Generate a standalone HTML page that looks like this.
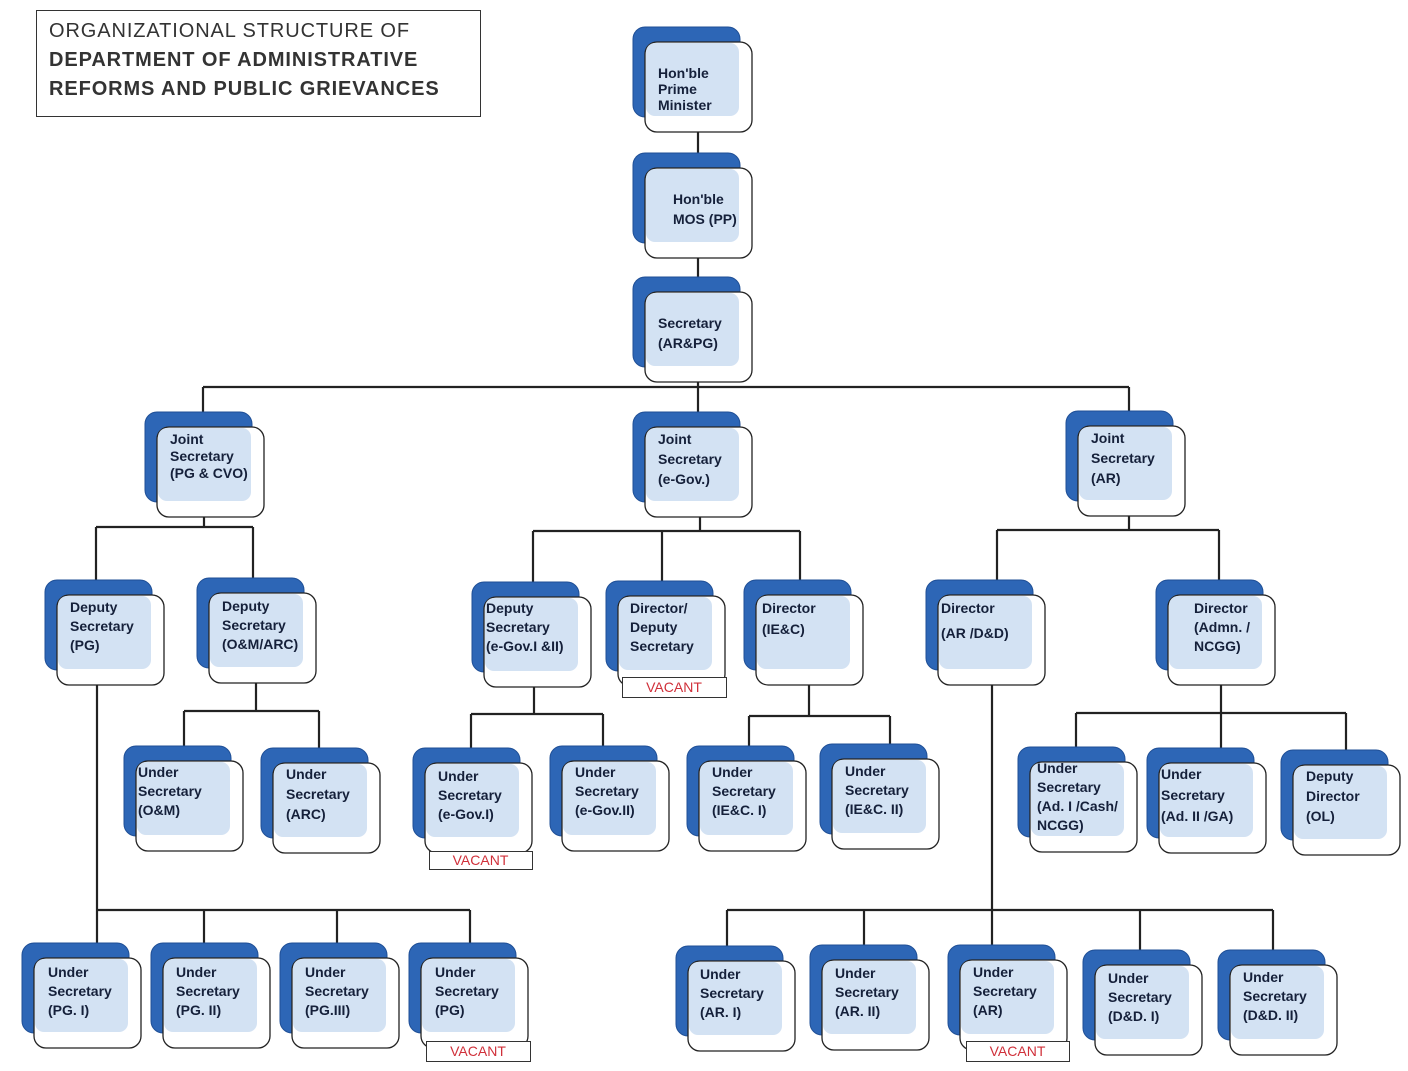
<!DOCTYPE html>
<html><head><meta charset="utf-8"><style>
html,body{margin:0;padding:0;background:#fff;}
svg{display:block;}
text{font-family:"Liberation Sans",Arial,sans-serif;}
.t{font-size:14px;font-weight:bold;fill:#15203a;}
.v{font-size:14px;fill:#d0303a;}
.h{font-size:20px;fill:#333;letter-spacing:0.9px;}
</style></head><body>
<svg id="s" width="1408" height="1071" viewBox="0 0 1408 1071" xmlns="http://www.w3.org/2000/svg">
<rect x="36.5" y="10.5" width="444" height="106" fill="#fff" stroke="#333" stroke-width="1"/>
<text x="49" y="37" class="h">ORGANIZATIONAL STRUCTURE OF</text>
<text x="49" y="66" class="h" style="font-weight:bold">DEPARTMENT OF ADMINISTRATIVE</text>
<text x="49" y="95" class="h" style="font-weight:bold">REFORMS AND PUBLIC GRIEVANCES</text>
<g stroke="#222" stroke-width="2.2" fill="none" id="lines">
<path d="M698 132V153M698 247V277M698 372V387M203 387H1129M203 387V412M698 387V412M1129 387V411"/>
<path d="M204 505V527M96 527H253M96 527V580M253 527V578"/>
<path d="M700 505V531M533 531H800M533 531V582M662 531V581M800 531V580"/>
<path d="M1129 504V530M997 530H1219M997 530V580M1219 530V580"/>
<path d="M256 670V711M184 711H319M184 711V746M319 711V748"/>
<path d="M534 675V714M471 714H603M471 714V748M603 714V746"/>
<path d="M809 673V716M749 716H890M749 716V746M890 716V744"/>
<path d="M1221 673V713M1076 713H1346M1076 713V747M1221 713V748M1346 713V750"/>
<path d="M97 673V910M97 910H470M97 910V943M204 910V943M337 910V943M470 910V943"/>
<path d="M992 673V945M727 910H1273M727 910V946M864 910V945M1140 910V950M1273 910V950"/>
</g>
<g id="nodes"></g>
</svg>
<script>
var N=[
[633,27,["Hon'ble","Prime","Minister"],25,46,16],
[633,153,["Hon'ble","MOS (PP)"],40,46,20],
[633,277,["Secretary","(AR&PG)"],25,46,20],
[145,412,["Joint","Secretary","(PG & CVO)"],25,27,17],
[633,412,["Joint","Secretary","(e-Gov.)"],25,27,20],
[1066,411,["Joint","Secretary","(AR)"],25,27,20],
[45,580,["Deputy","Secretary","(PG)"],25,27,19],
[197,578,["Deputy","Secretary","(O&M/ARC)"],25,28,19],
[472,582,["Deputy","Secretary","(e-Gov.I &II)"],14,26,19],
[606,581,["Director/","Deputy","Secretary"],24,27,19],
[744,580,["Director","(IE&C)"],18,28,21],
[926,580,["Director","(AR /D&D)"],15,28,25],
[1156,580,["Director","(Admn. /","NCGG)"],38,28,19],
[124,746,["Under","Secretary","(O&M)"],14,26,19],
[261,748,["Under","Secretary","(ARC)"],25,26,20],
[413,748,["Under","Secretary","(e-Gov.I)"],25,28,19],
[550,746,["Under","Secretary","(e-Gov.II)"],25,26,19],
[687,746,["Under","Secretary","(IE&C. I)"],25,26,19],
[820,744,["Under","Secretary","(IE&C. II)"],25,27,19],
[1018,747,["Under","Secretary","(Ad. I /Cash/","NCGG)"],19,21,19],
[1147,748,["Under","Secretary","(Ad. II /GA)"],14,26,21],
[1281,750,["Deputy","Director","(OL)"],25,26,20],
[22,943,["Under","Secretary","(PG. I)"],26,29,19],
[151,943,["Under","Secretary","(PG. II)"],25,29,19],
[280,943,["Under","Secretary","(PG.III)"],25,29,19],
[409,943,["Under","Secretary","(PG)"],26,29,19],
[676,946,["Under","Secretary","(AR. I)"],24,28,19],
[810,945,["Under","Secretary","(AR. II)"],25,28,19],
[948,945,["Under","Secretary","(AR)"],25,27,19],
[1083,950,["Under","Secretary","(D&D. I)"],25,28,19],
[1218,950,["Under","Secretary","(D&D. II)"],25,27,19]
];
var V=[[622,677,104,20],[429,851,103,18],[426,1041,104,20],[966,1041,103,20]];
var ns="http://www.w3.org/2000/svg",g=document.getElementById("nodes");
function el(t,a,p){var e=document.createElementNS(ns,t);for(var k in a)e.setAttribute(k,a[k]);(p||g).appendChild(e);return e;}
var W=107,H=90,OX=12,OY=15;
N.forEach(function(n){var x=n[0],y=n[1];
el("rect",{x:x,y:y,width:W,height:H,rx:12,fill:"#2d66b6",stroke:"#1f4f96","stroke-width":1});
el("rect",{x:x+OX,y:y+OY,width:W,height:H,rx:12,fill:"#fff",stroke:"#222","stroke-width":1.3});
el("rect",{x:x+OX+1,y:y+OY+1,width:W-OX-2,height:H-OY-2,rx:9,fill:"#d3e2f3"});
n[2].forEach(function(s,i){var t=el("text",{x:x+n[3],y:y+n[4]+5+i*n[5],"class":"t"});t.textContent=s;});
});
V.forEach(function(v){el("rect",{x:v[0]+.5,y:v[1]+.5,width:v[2],height:v[3],fill:"#fff",stroke:"#333","stroke-width":1});
var t=el("text",{x:v[0]+v[2]/2,y:v[1]+v[3]/2+5,"class":"v","text-anchor":"middle"});t.textContent="VACANT";});
</script>
</body></html>
